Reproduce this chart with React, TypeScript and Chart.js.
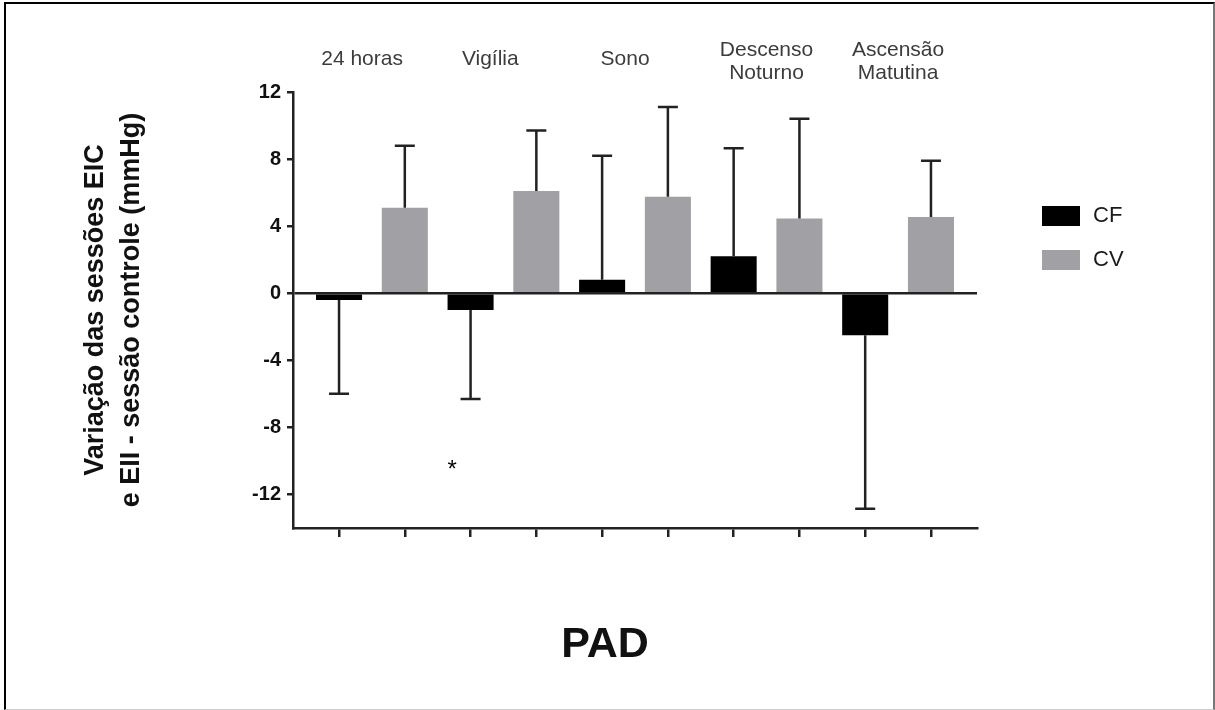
import React, { useEffect, useRef } from 'react';
import { Chart, registerables } from 'chart.js';

Chart.register(...registerables);

// ---- data ----
const groupLabels: string[][] = [['24 horas'], ['Vigília'], ['Sono'], ['Descenso', 'Noturno'], ['Ascensão', 'Matutina']];
const seriesNames = ['CF', 'CV'];
const cfMean = [-0.4, -1.0, 0.8, 2.2, -2.5];
const cfErrEnd = [-6.0, -6.3, 8.2, 8.65, -12.85];
const cvMean = [5.1, 6.1, 5.75, 4.45, 4.55];
const cvErrEnd = [8.8, 9.7, 11.1, 10.4, 7.9];
const yTicks = [-12, -8, -4, 0, 4, 8, 12];
const yTitle = ['Variação das sessões EIC', 'e EII - sessão controle (mmHg)'];
const xTitle = 'PAD';
const sigMarks = [{ x: 2.72, y: -10.1, text: '*' }];

const seriesColors = ['#000000', '#a1a0a5'];
const FONT = '"Liberation Sans", Arial, sans-serif';

export default function App() {
  const ref = useRef<HTMLCanvasElement | null>(null);

  useEffect(() => {
    if (!ref.current) return;
    document.body.style.margin = '0';

    const errorBars = {
      id: 'errorBars',
      afterDatasetsDraw(chart: any) {
        const ctx = chart.ctx;
        const ys = chart.scales.y;
        const ends = [cfErrEnd, cvErrEnd];
        ctx.save();
        ctx.strokeStyle = '#222';
        ctx.lineWidth = 2.5;
        chart.data.datasets.forEach((_: any, di: number) => {
          const meta = chart.getDatasetMeta(di);
          meta.data.forEach((el: any, i: number) => {
            const yEnd = ys.getPixelForValue(ends[di][i]);
            ctx.beginPath();
            ctx.moveTo(el.x, el.y);
            ctx.lineTo(el.x, yEnd);
            ctx.moveTo(el.x - 10, yEnd);
            ctx.lineTo(el.x + 10, yEnd);
            ctx.stroke();
          });
        });
        ctx.restore();
      },
    };

    const annotations = {
      id: 'annotations',
      afterDraw(chart: any) {
        const ctx = chart.ctx;
        const { chartArea } = chart;
        const xs = chart.scales.x;
        const ys = chart.scales.y;
        ctx.save();
        // group labels on top
        ctx.fillStyle = '#3c3c3c';
        ctx.font = `21px ${FONT}`;
        ctx.textAlign = 'center';
        ctx.textBaseline = 'middle';
        const anchors = [1.35, 3.3, 5.35, 7.5, 9.5];
        groupLabels.forEach((lines, g) => {
          const cx = xs.getPixelForValue(anchors[g]);
          if (lines.length === 1) {
            ctx.fillText(lines[0], cx, chartArea.top - 33);
          } else {
            ctx.fillText(lines[0], cx, chartArea.top - 42);
            ctx.fillText(lines[1], cx, chartArea.top - 19);
          }
        });
        // y title
        ctx.fillStyle = '#111';
        ctx.font = `bold 27px ${FONT}`;
        const cy = (chartArea.top + chartArea.bottom) / 2;
        ctx.save();
        ctx.translate(96, cy);
        ctx.rotate(-Math.PI / 2);
        ctx.fillText(yTitle[0], 0, 0);
        ctx.fillText(yTitle[1], 0, 36);
        ctx.restore();
        // x title
        ctx.font = `bold 43px ${FONT}`;
        ctx.fillText(xTitle, 605, 645);
        // significance marks
        ctx.font = `24px ${FONT}`;
        ctx.textBaseline = 'alphabetic';
        sigMarks.forEach((m) => {
          ctx.fillStyle = '#000';
          ctx.fillText(m.text, xs.getPixelForValue(m.x), ys.getPixelForValue(m.y) + 14);
        });
        // legend
        ctx.textAlign = 'left';
        ctx.textBaseline = 'middle';
        ctx.font = `22px ${FONT}`;
        chart.data.datasets.forEach((ds: any, i: number) => {
          const top = 206 + i * 44;
          ctx.fillStyle = ds.backgroundColor;
          ctx.fillRect(1042, top, 38, 20);
          ctx.fillStyle = '#1a1a1a';
          ctx.fillText(ds.label, 1093, top + 10);
        });
        ctx.restore();
      },
    };

    const chart = new Chart(ref.current, {
      type: 'bar',
      data: {
        datasets: [
          {
            label: seriesNames[0],
            data: cfMean.map((v, g) => ({ x: 2 * g + 1, y: v })),
            backgroundColor: seriesColors[0],
            grouped: false,
            barPercentage: 0.7,
            categoryPercentage: 1,
          },
          {
            label: seriesNames[1],
            data: cvMean.map((v, g) => ({ x: 2 * g + 2, y: v })),
            backgroundColor: seriesColors[1],
            grouped: false,
            barPercentage: 0.7,
            categoryPercentage: 1,
          },
        ] as any,
      },
      options: {
        animation: false,
        responsive: false,
        layout: { padding: { top: 92, right: 238, bottom: 142, left: 0 } },
        plugins: { legend: { display: false }, tooltip: { enabled: false } },
        scales: {
          x: {
            type: 'linear',
            offset: false,
            min: 0.3,
            max: 10.7,
            afterBuildTicks: (scale: any) => {
              scale.ticks = [1, 2, 3, 4, 5, 6, 7, 8, 9, 10].map((v) => ({ value: v }));
            },
            afterFit: (scale: any) => {
              scale.height = 40;
            },
            ticks: { display: false },
            grid: { offset: false, drawOnChartArea: false, tickLength: 9, color: '#222', lineWidth: 2.5 },
            border: { color: '#222', width: 2.5 },
          },
          y: {
            type: 'linear',
            min: -14,
            max: 12,
            afterBuildTicks: (scale: any) => {
              scale.ticks = yTicks.map((v) => ({ value: v }));
            },
            afterFit: (scale: any) => {
              scale.width = 293;
            },
            ticks: {
              font: { family: FONT, size: 20, weight: 'bold' },
              color: '#111',
              padding: 6,
            },
            grid: {
              drawOnChartArea: true,
              tickLength: 6,
              color: (c: any) => (c.tick && c.tick.value === 0 ? '#222' : 'rgba(0,0,0,0)'),
              tickColor: '#222',
              lineWidth: 2.5,
            },
            border: { color: '#222', width: 2.5 },
          },
        },
      } as any,
      plugins: [errorBars, annotations],
    });
    return () => chart.destroy();
  }, []);

  return (
    <div style={{ position: 'absolute', left: 0, top: 0, width: 1215, height: 710, background: '#fff' }}>
      <canvas ref={ref} width={1215} height={710} style={{ display: 'block' }} />
      <div
        style={{
          position: 'absolute',
          left: 4,
          top: 2,
          width: 1207,
          height: 705,
          borderLeft: '2px solid #000',
          borderTop: '2px solid #000',
          borderRight: '2px solid #777',
          borderBottom: '1px solid #ccc',
          pointerEvents: 'none',
        }}
      />
    </div>
  );
}
